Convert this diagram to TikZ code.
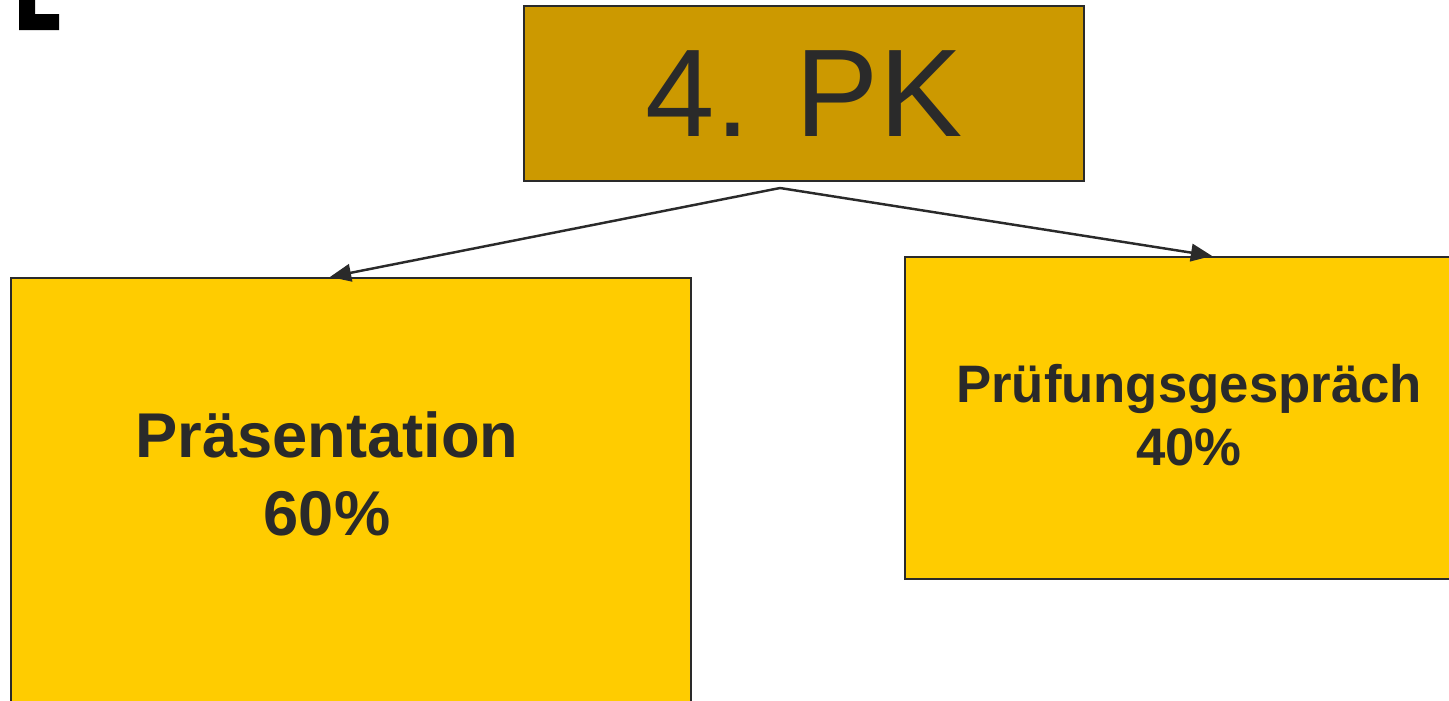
\documentclass[tikz,border=0pt]{standalone}
\usepackage{fontspec}
\setmainfont{Liberation Sans}
\usetikzlibrary{arrows.meta}
\definecolor{ink}{HTML}{2A2A2A}
\definecolor{pkgold}{HTML}{CC9900}
\definecolor{partyellow}{HTML}{FFCC00}
\tikzset{
  box/.style={draw=ink, line width=0.6pt, anchor=south west, inner sep=0pt},
  part/.style={font=\bfseries, text=ink, align=center},
  branch/.style={draw=ink, line width=0.7pt, -{Triangle[length=6pt, width=5pt]}}
}
\begin{document}
\begin{tikzpicture}
      \useasboundingbox (0, 0) rectangle (14.49, 7);
      \clip (0, 0) rectangle (14.49, 7);

      % corner mark
      \fill[black] (0.19, 7) -- (0.35, 7) -- (0.35, 6.86) -- (0.59, 6.86)
        -- (0.59, 6.70) -- (0.19, 6.70) -- cycle;

      \node[box, fill=pkgold, minimum width=5.6cm, minimum height=1.75cm,
        font=\fontsize{35.5}{40}\selectfont, text=ink] (pk) at (5.23, 5.18) {4. PK};

      \node[box, fill=partyellow, minimum width=6.8cm, minimum height=4.6cm] (praes) at (0.10, -0.39) {};
      \node[box, fill=partyellow, minimum width=5.9cm, minimum height=3.22cm] (gespr) at (9.04, 1.20) {};

      \node[part, font=\fontsize{18}{22}\selectfont\bfseries, anchor=base] (praestext) at (3.27, 1.65) {Präsentation\\60\%};
      \node[part, font=\fontsize{15}{17.8}\selectfont\bfseries, anchor=base] (gesprtext) at (11.89, 2.35) {Prüfungsgespräch\\40\%};

      \coordinate (fork) at (7.80, 5.12);
      \draw[branch] (fork) -- (praes.north west -| 3.30, 0);
      \draw[branch] (fork) -- (gespr.north west -| 12.12, 0);
    \end{tikzpicture}
\end{document}
